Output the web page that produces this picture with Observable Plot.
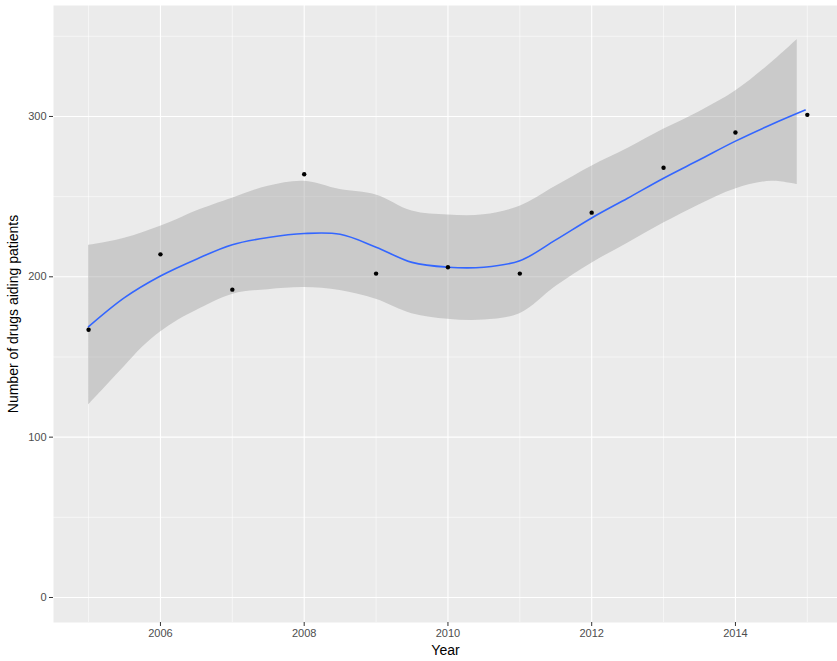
<!DOCTYPE html>
<html>
<head>
<meta charset="utf-8">
<script src="https://cdn.jsdelivr.net/npm/d3@7"></script>
<script src="https://cdn.jsdelivr.net/npm/@observablehq/plot@0.6"></script>
<style>
  html, body { margin: 0; padding: 0; background: #fff; }
  #chart svg { font-family: "Liberation Sans", Arial, sans-serif; display: block; }
  #chart g[aria-label="x-axis tick label"] text,
  #chart g[aria-label="y-axis tick label"] text { fill: #4D4D4D; }
  #chart g[aria-label="x-axis tick"] path,
  #chart g[aria-label="y-axis tick"] path { stroke: #333333; }
</style>
</head>
<body>
<div id="chart"></div>
<script>
// Observed data
const years = [2005, 2006, 2007, 2008, 2009, 2010, 2011, 2012, 2013, 2014, 2015];
const drugs = [167, 214, 192, 264, 202, 206, 202, 240, 268, 290, 301];

// Smoothed fit
const fitYears = [2005, 2005.5, 2006, 2006.5, 2007, 2007.5, 2008, 2008.5, 2009, 2009.5, 2010, 2010.5, 2011, 2011.5, 2012, 2012.5, 2013, 2013.5, 2014, 2014.5, 2014.97];
const fitValues = [168.9, 187, 200.5, 211, 220, 224.5, 227, 226.5, 218.5, 209, 206, 206, 210, 223, 236.7, 249, 261.5, 273, 284.6, 295, 304];

// Confidence band
const bandYears = [2005, 2005.25, 2005.5, 2005.75, 2006, 2006.25, 2006.5, 2007, 2007.5, 2008, 2008.5, 2009, 2009.5, 2010, 2010.5, 2011, 2011.5, 2012, 2012.5, 2013, 2013.5, 2014, 2014.5, 2014.86];
const bandLower = [120, 132, 144, 156, 165.5, 173, 179, 189, 192, 193.3, 191.5, 186, 177, 173.5, 173, 177, 194, 208.5, 221, 233.5, 245, 254.8, 259.6, 257.5];
const bandUpper = [219.6, 221.5, 224, 227.5, 231.5, 236, 241, 249, 256.5, 259.6, 254.4, 251, 241, 238.5, 238.7, 244, 256.5, 269, 280, 292, 303, 315.8, 333.5, 348];

// Ticks / grid
const xTicks = [2006, 2008, 2010, 2012, 2014];
const xMinor = [2005, 2007, 2009, 2011, 2013, 2015];
const yTicks = [0, 100, 200, 300];
const yMinor = [50, 150, 250, 350];

const xTitle = "Year";
const yTitle = "Number of drugs aiding patients";

const points = years.map((y, i) => ({year: y, value: drugs[i]}));
const fit = fitYears.map((y, i) => ({year: y, value: fitValues[i]}));
const band = bandYears.map((y, i) => ({year: y, lo: bandLower[i], hi: bandUpper[i]}));

const chart = Plot.plot({
  width: 837,
  height: 661,
  marginLeft: 53,
  marginRight: 0,
  marginTop: 5,
  marginBottom: 39,
  style: {background: "#fff", fontSize: "11px"},
  x: {domain: [2004.512, 2015.42]},
  y: {domain: [-15.6, 369.2]},
  marks: [
    Plot.frame({fill: "#EBEBEB", stroke: null}),
    Plot.ruleX(xMinor, {stroke: "#fff", strokeWidth: 0.55}),
    Plot.ruleY(yMinor, {stroke: "#fff", strokeWidth: 0.55}),
    Plot.ruleX(xTicks, {stroke: "#fff", strokeWidth: 1.1}),
    Plot.ruleY(yTicks, {stroke: "#fff", strokeWidth: 1.1}),
    Plot.areaY(band, {x: "year", y1: "lo", y2: "hi", fill: "#999999", fillOpacity: 0.4, curve: "catmull-rom"}),
    Plot.line(fit, {x: "year", y: "value", stroke: "#3366FF", strokeWidth: 1.6, curve: "catmull-rom"}),
    Plot.dot(points, {x: "year", y: "value", r: 2.2, fill: "#000", stroke: null}),
    Plot.axisX({ticks: xTicks, tickFormat: d => String(d), tickSize: 4, tickPadding: 3, fontSize: 11, label: null}),
    Plot.axisY({ticks: yTicks, tickSize: 4, tickPadding: 3, fontSize: 11, label: null}),
    Plot.text([xTitle], {frameAnchor: "bottom", text: d => d, dy: 32, fontSize: 14, fill: "#000", textAnchor: "middle"}),
    Plot.text([yTitle], {frameAnchor: "left", text: d => d, dx: -40, rotate: -90, fontSize: 14, fill: "#000", textAnchor: "middle"})
  ]
});
document.getElementById("chart").appendChild(chart);
</script>
</body>
</html>
